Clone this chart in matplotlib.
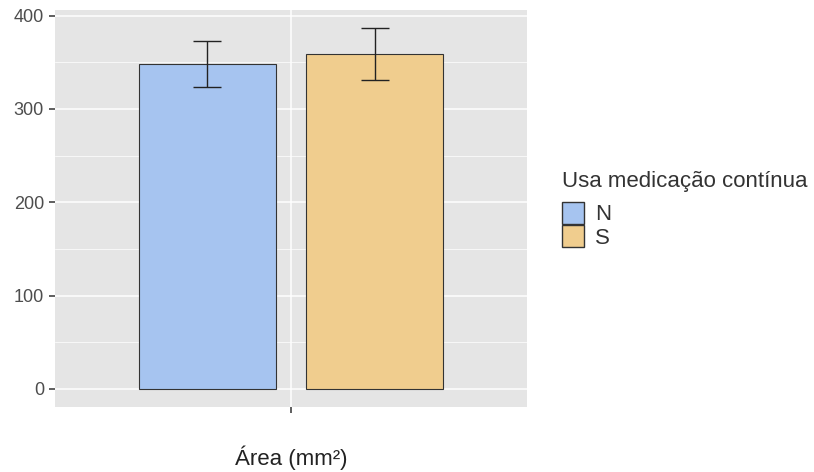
import matplotlib
matplotlib.use("Agg")
import matplotlib.pyplot as plt
from matplotlib.patches import Patch
import numpy as np

groups = ["N", "S"]
means = [348.3, 358.8]
errors = [24.4, 27.9]
colors = ["#A6C4F0", "#F0CD8E"]
x_label = "Área (mm²)"
legend_title = "Usa medicação contínua"
title = "Média da Área (mm²)"

plt.rcParams['font.family'] = ['Liberation Sans', 'DejaVu Sans']

fig = plt.figure(figsize=(8.14, 4.72), dpi=100)
W, H = 814, 472
ax = fig.add_axes([55/W, 1-407/H, (527-55)/W, (407-10)/H])
ax.set_facecolor("#E5E5E5")

offsets = [-0.2125, 0.2125]
for g, m, e, c, o in zip(groups, means, errors, colors, offsets):
    ax.bar(1 + o, m, width=0.35, color=c, edgecolor="#333333", linewidth=0.8, zorder=3)
    ax.errorbar(1 + o, m, yerr=e, fmt="none", ecolor="#222222", elinewidth=1.0,
                capsize=10, capthick=1.0, zorder=4)

top = max(np.array(means) + np.array(errors))
pad = top * 0.05
ax.set_ylim(-pad, top + pad)
ax.set_xlim(0.4, 1.6)
ax.set_yticks([0, 100, 200, 300, 400])
ax.set_yticks([50, 150, 250, 350], minor=True)
ax.set_xticks([1])
ax.set_xticklabels([""])
ax.grid(which="major", color="white", linewidth=1.1, zorder=0)
ax.grid(which="minor", axis="y", color="white", linewidth=0.5, zorder=0)
ax.set_axisbelow(True)
for s in ax.spines.values():
    s.set_visible(False)
ax.tick_params(axis="both", which="major", length=4, width=1.1, color="#333333",
               labelcolor="#4D4D4D", labelsize=13, pad=4)
ax.tick_params(axis="both", which="minor", length=0)
ax.set_xlabel(x_label, fontsize=16, color="#222222", labelpad=20)

fig.text(464/W, 1 + 2.8/H, title, ha="right", va="baseline", fontsize=12, color="black")

handles = [Patch(facecolor=c, edgecolor="#333333", linewidth=1.0) for c in colors]
leg = fig.legend(handles, groups, title=legend_title, loc="upper left",
                 bbox_to_anchor=(553/W, 1 - 162/H), frameon=False, fontsize=16,
                 title_fontsize=16, handlelength=1.0, handleheight=1.15,
                 handletextpad=0.5, labelspacing=0.0, borderaxespad=0)
leg._legend_box.align = "left"
leg._legend_box.sep = 7
for t in leg.get_texts():
    t.set_color("#333333")
leg.get_title().set_color("#333333")

fig.savefig("out.png", dpi=100)
